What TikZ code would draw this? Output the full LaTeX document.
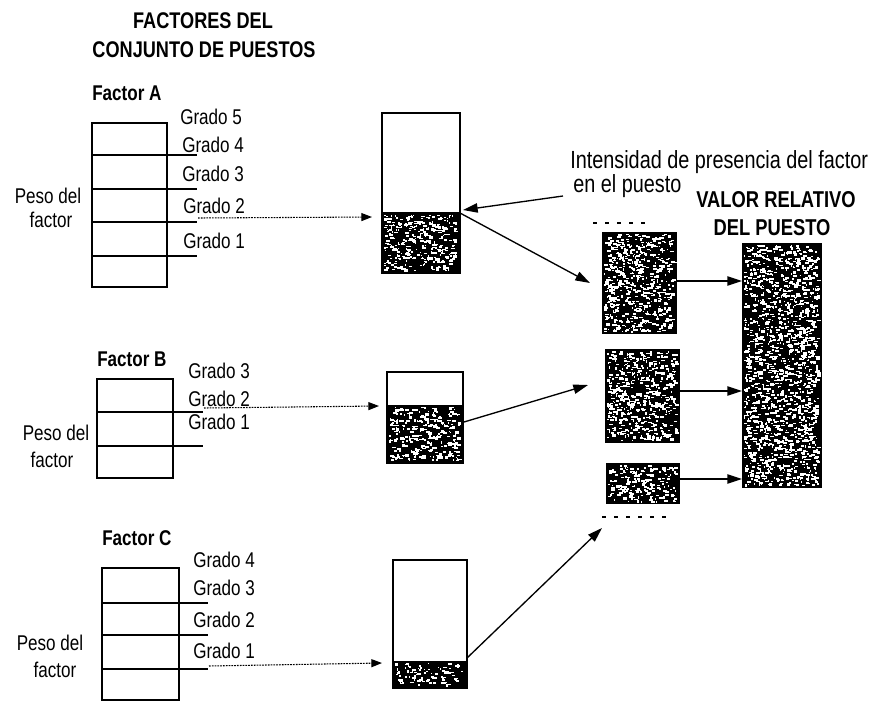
\documentclass[tikz,border=0pt]{standalone}
\usepackage{fontspec}
\setmainfont{Liberation Sans}[FakeStretch=0.8]
\usetikzlibrary{arrows.meta}
\newcommand\mySpeckle[5]{%
  \fill[black] (#1,#2) rectangle (#3,#4);
  \foreach \k in {1,...,#5}{%
    \pgfmathsetmacro\sx{#1+1.5+rnd*(#3-#1-6)}%
    \pgfmathsetmacro\sy{#2+1.5+rnd*(#4-#2-4.5)}%
    \pgfmathsetmacro\sw{0.8+rnd*3.4}%
    \pgfmathsetmacro\sh{0.8+rnd*1.8}%
    \fill[white] (\sx,\sy) rectangle ++(\sw,\sh);
  }}
\tikzset{
  box/.style={draw, line width=1.1pt},
  grd/.style={font=\fontsize{16}{18}\selectfont, inner sep=0pt, anchor=base west},
  peso/.style={font=\fontsize{16}{18}\selectfont, inner sep=0pt, anchor=base},
  fct/.style={font=\bfseries\fontsize{16}{18}\selectfont, inner sep=0pt, anchor=base west},
  ttl/.style={font=\bfseries\fontsize{17}{19}\selectfont, inner sep=0pt, anchor=base},
  vttl/.style={font=\bfseries\fontsize{17.2}{19}\selectfont, inner sep=0pt, anchor=base},
  note/.style={font=\fontsize{18.6}{20}\selectfont, inner sep=0pt, anchor=base west},
  dotarrow/.style={line width=0.8pt, dash pattern=on 1.3pt off 0.8pt, -{Triangle[length=8pt,width=6pt]}},
  arr/.style={line width=1pt, -{Triangle[length=11pt,width=7pt]}},
  faint/.style={line width=0.9pt, dash pattern=on 3pt off 6pt},
}
\begin{document}
\begin{tikzpicture}[x=0.75pt,y=-0.75pt]
\useasboundingbox (0,0) rectangle (880,703);
\pgfmathsetseed{11}

% ---------- titles ----------
\node[ttl] (t1) at (203,28) {FACTORES DEL};
\node[ttl] (t2) at (204,57) {CONJUNTO DE PUESTOS};

% ---------- Factor A ----------
\node[fct] (fA) at (92,100) {Factor A};
\draw[box] (92,123) rectangle (167,287);
\foreach \yy in {155,189,222,256} \draw[box] (92,\yy) -- (197,\yy);
\node[grd] (a5) at (180,124) {Grado 5};
\node[grd] (a4) at (182,152) {Grado 4};
\node[grd] (a3) at (182,181) {Grado 3};
\node[grd] (a2) at (183,213) {Grado 2};
\node[grd] (a1) at (183,248) {Grado 1};
\node[peso] (pa1) at (48,203) {Peso del};
\node[peso] (pa2) at (51,227) {factor};
\coordinate (aOut) at (198,218);
\coordinate (aIn) at (372,217);

% ---------- Factor B ----------
\node[fct] (fB) at (97,366) {Factor B};
\draw[box] (97,379) rectangle (173,478);
\foreach \yy in {412,446} \draw[box] (97,\yy) -- (203,\yy);
\node[grd] (b3) at (188,378) {Grado 3};
\node[grd] (b2) at (188,406) {Grado 2};
\node[grd] (b1) at (188,429) {Grado 1};
\node[peso] (pb1) at (56,440) {Peso del};
\node[peso] (pb2) at (52,467) {factor};
\coordinate (bOut) at (204,408);
\coordinate (bIn) at (379,406);

% ---------- Factor C ----------
\node[fct] (fC) at (102,545) {Factor C};
\draw[box] (102,568) rectangle (179,700);
\foreach \yy in {603,635,669} \draw[box] (102,\yy) -- (208,\yy);
\node[grd] (c4) at (193,567) {Grado 4};
\node[grd] (c3) at (193,595) {Grado 3};
\node[grd] (c2) at (193,627) {Grado 2};
\node[grd] (c1) at (193,658) {Grado 1};
\node[peso] (pc1) at (50,650) {Peso del};
\node[peso] (pc2) at (55,677) {factor};
\coordinate (cOut) at (209,666);
\coordinate (cIn) at (382,663);

% ---------- middle bars ----------
\mySpeckle{382}{213}{460}{273}{340}
\draw[box] (382,113) rectangle (460,273);
\draw[box] (382,213) -- (460,213);
\coordinate (barA) at (460,213);

\mySpeckle{387}{405}{463}{463}{310}
\draw[box] (387,372) rectangle (463,463);
\coordinate (barB) at (464,422);

\mySpeckle{393}{661}{467}{688}{90}
\draw[box] (393,560) rectangle (467,688);
\coordinate (barC) at (467,658);

% ---------- right column ----------
\mySpeckle{602}{232}{677}{334}{600}
\mySpeckle{605}{349}{680}{443}{540}
\mySpeckle{606}{463}{680}{504}{190}
\mySpeckle{742}{243}{822}{488}{1550}
\coordinate (r1in) at (590,283);
\coordinate (r2in) at (588,385);
\coordinate (r3in) at (602,528);
\coordinate (r1out) at (677,281);
\coordinate (r2out) at (680,391);
\coordinate (r3out) at (680,479);
\coordinate (v1) at (742,281);
\coordinate (v2) at (742,391);
\coordinate (v3) at (742,479);
\draw[faint] (593,223) -- (645,223);
\draw[faint] (602,517) -- (672,517);

\node[vttl] (vt1) at (776,207) {VALOR RELATIVO};
\node[vttl] (vt2) at (772,235) {DEL PUESTO};

% ---------- annotation ----------
\node[note] (n1) at (570,168) {Intensidad de presencia del factor};
\node[note] (n2) at (573,192) {en el puesto};
\coordinate (nFrom) at (563,196);
\coordinate (nTo) at (463,210);

% ---------- connectors ----------
\draw[dotarrow] (aOut) -- (aIn);
\draw[dotarrow] (bOut) -- (bIn);
\draw[dotarrow] (cOut) -- (cIn);
\draw[arr] (nFrom) -- (nTo);
\draw[arr] (barA) -- (r1in);
\draw[arr] (barB) -- (r2in);
\draw[arr] (barC) -- (r3in);
\draw[arr] (r1out) -- (v1);
\draw[arr] (r2out) -- (v2);
\draw[arr] (r3out) -- (v3);
\end{tikzpicture}
\end{document}
